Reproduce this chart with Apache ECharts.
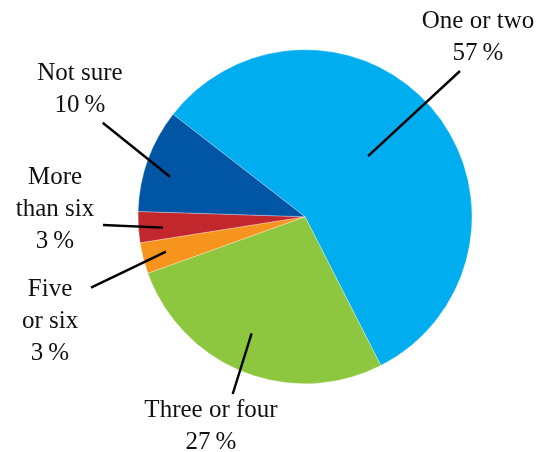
<!DOCTYPE html>
<html>
<head>
<meta charset="utf-8">
<script src="https://cdn.jsdelivr.net/npm/echarts@6/dist/echarts.min.js"></script>
<style>
  html, body { margin: 0; padding: 0; background: #fff; }
  #chart { width: 546px; height: 452px; }
</style>
</head>
<body>
<div id="chart"></div>
<script>
// Answers and their shares (percent)
const categories = ['One or two', 'Three or four', 'Five or six', 'More than six', 'Not sure'];
const shares = [57, 27, 3, 3, 10];
// How each label is broken over lines
const labelNames = ['One or two', 'Three or four', 'Five\nor six', 'More\nthan six', 'Not sure'];
const colors = ['#00aeef', '#8dc63f', '#f7941d', '#c1272d', '#0055a4'];

// Pie geometry
const CX = 305, CY = 216.7, R = 167, START = 142.2;

// Leader line / label placement per slice:
// inner end sits on the slice's mid angle (nudged by da degrees) at rf * radius,
// outer end and label centre are offsets from the pie centre.
const calloutLayout = [
  { da: 4.3,  rf: 0.524, end: [155, -145.7], label: [173, -179] },
  { da: -3.0, rf: 0.768, end: [-72.3, 177.3], label: [-94, 210] },
  { da: -0.3, rf: 0.858, end: [-214, 71],    label: [-255, 105] },
  { da: 0.8,  rf: 0.853, end: [-202, 8.3],   label: [-250, -7.7] },
  { da: 3.3,  rf: 0.843, end: [-202.3, -94], label: [-225, -127.7] }
];

const total = shares.reduce((a, b) => a + b, 0);
function midAngle(i) {
  let before = 0;
  for (let k = 0; k < i; k++) before += shares[k];
  return START - (before + shares[i] / 2) / total * 360;
}

const pieBase = {
  type: 'pie',
  center: [CX, CY],
  radius: R,
  startAngle: START,
  clockwise: true,
  avoidLabelOverlap: false,
  emphasis: { disabled: true },
  silent: true
};

const chart = echarts.init(document.getElementById('chart'), null, { renderer: 'canvas' });

chart.setOption({
  animation: false,
  backgroundColor: '#ffffff',
  series: [
    // the coloured slices
    Object.assign({}, pieBase, {
      z: 2,
      data: categories.map((name, i) => ({
        name: name,
        value: shares[i],
        itemStyle: { color: colors[i] }
      })),
      itemStyle: { borderColor: 'rgba(255,255,255,0.6)', borderWidth: 0.5 },
      label: { show: false },
      labelLine: { show: false }
    }),
    // callouts drawn on top of the slices
    Object.assign({}, pieBase, {
      z: 5,
      data: categories.map((name, i) => ({ name: name, value: shares[i] })),
      itemStyle: { color: 'rgba(0,0,0,0)', borderWidth: 0 },
      label: {
        show: true,
        position: 'outside',
        fontFamily: '"Liberation Serif", "DejaVu Serif", serif',
        fontSize: 25,
        lineHeight: 32,
        color: '#111111',
        align: 'center',
        formatter: p => labelNames[p.dataIndex] + '\n' + p.value + '\u2009%'
      },
      labelLine: {
        show: true,
        lineStyle: { color: '#000000', width: 2.4 }
      },
      labelLayout: function (params) {
        const i = params.dataIndex;
        const c = calloutLayout[i];
        const a = (midAngle(i) + c.da) * Math.PI / 180;
        const p0 = [CX + Math.cos(a) * R * c.rf, CY - Math.sin(a) * R * c.rf];
        const p1 = [CX + c.end[0], CY + c.end[1]];
        return {
          x: CX + c.label[0],
          y: CY + c.label[1],
          align: 'center',
          verticalAlign: 'middle',
          labelLinePoints: [p0, p1, p1]
        };
      }
    })
  ]
});
</script>
</body>
</html>
